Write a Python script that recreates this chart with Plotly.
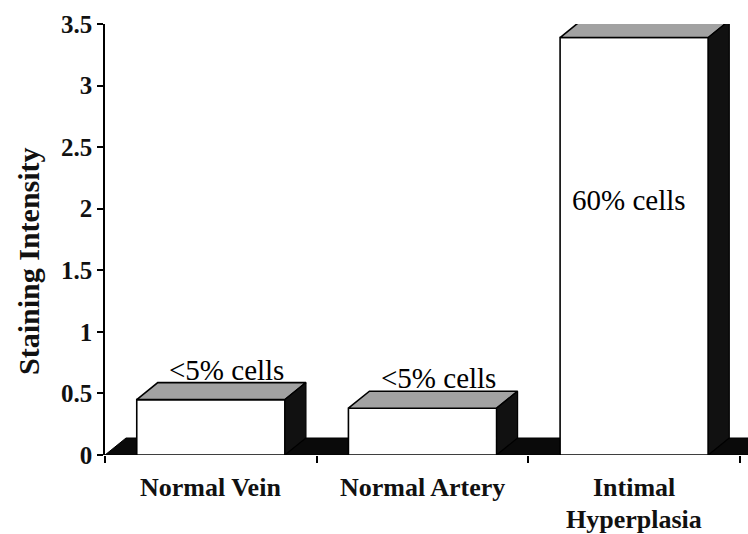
import plotly.graph_objects as go

# ---- data ----
categories = ["Normal Vein", "Normal Artery", "Intimal\nHyperplasia"]
intensity = [0.45, 0.38, 3.39]
cell_labels = ["<5% cells", "<5% cells", "60% cells"]
y_ticks = [0, 0.5, 1, 1.5, 2, 2.5, 3, 3.5]
y_ticktext = ["0", "0.5", "1", "1.5", "2", "2.5", "3", "3.5"]

# ---- style / geometry ----
W, H = 748, 534
ML, MR, MT, MB = 105, 0, 24, 79
PX_PER_CAT = 211.67
X0 = -0.5
X1 = X0 + (W - ML - MR) / PX_PER_CAT
Y_MAX = 3.5
PX_PER_UNIT = (H - MT - MB) / Y_MAX
DX = 21 / PX_PER_CAT          # depth offset in x (data units)
DY = 17 / PX_PER_UNIT         # depth offset in y (data units)
HALF = 0.35                   # half bar width
SERIF = "Liberation Serif, Times New Roman, serif"

fig = go.Figure()


def poly(xs, ys, fill, lw=1.2):
    fig.add_trace(go.Scatter(
        x=xs + [xs[0]], y=ys + [ys[0]], mode="lines", fill="toself",
        fillcolor=fill, line=dict(color="black", width=lw),
        hoverinfo="skip", showlegend=False))


# floor
poly([X0, X0 + DX, X1 + 0.2, X1 + 0.2], [0, DY, DY, 0], "#0a0a0a", 1)

# 3D bars
for i, v in enumerate(intensity):
    xl, xr = i - HALF, i + HALF
    # front face
    poly([xl, xr, xr, xl], [0, 0, v, v], "white", 1.6)
    # top face
    poly([xl, xr, xr + DX, xl + DX], [v, v, v + DY, v + DY], "#a2a2a2", 1.6)
    # side face
    poly([xr, xr + DX, xr + DX, xr], [0, DY, v + DY, v], "#111111", 1.2)

annotations = []
# percentage labels
for i, (v, t) in enumerate(zip(intensity, cell_labels)):
    if v > 2:
        annotations.append(dict(x=i + DX / 2 - 0.075, y=v * 0.61, xref="x", yref="y",
                                text=t, showarrow=False, yanchor="middle",
                                font=dict(family=SERIF, size=29, color="black")))
    else:
        annotations.append(dict(x=i + DX / 2 + 0.025, y=v + DY, xref="x", yref="y",
                                text=t, showarrow=False, yanchor="bottom", yshift=-5,
                                font=dict(family=SERIF, size=29, color="black")))

# category labels
for i, c in enumerate(categories):
    for k, line in enumerate(c.split("\n")):
        annotations.append(dict(x=i, y=0, xref="x", yref="y", text="<b>" + line + "</b>",
                                showarrow=False, yanchor="middle", yshift=-32 - 32 * k,
                                font=dict(family=SERIF, size=26, color="#111")))

# y title (pixel position converted to paper coords)
annotations.append(dict(x=(28 - ML) / (W - ML - MR), y=(H - MB - 261) / (H - MT - MB),
                        xref="paper", yref="paper", text="<b>Staining Intensity</b>",
                        showarrow=False, textangle=-90, xanchor="center", yanchor="middle",
                        font=dict(family=SERIF, size=30, color="#111")))

fig.update_layout(
    width=W, height=H,
    margin=dict(l=ML, r=MR, t=MT, b=MB, pad=0),
    paper_bgcolor="white", plot_bgcolor="white",
    showlegend=False,
    annotations=annotations,
    xaxis=dict(range=[X0, X1], showgrid=False, zeroline=False, showline=False,
               tickvals=[-0.5, 0.5, 1.5, 2.5], ticktext=["", "", "", ""],
               ticks="outside", ticklen=7, tickwidth=1.5, tickcolor="black", fixedrange=True),
    yaxis=dict(range=[0, Y_MAX], showgrid=False, zeroline=False, showline=True,
               linecolor="black", linewidth=1.5,
               tickvals=y_ticks, ticktext=["<b>%s</b>" % t for t in y_ticktext],
               ticks="outside", ticklen=6, tickwidth=1.5, tickcolor="black",
               tickfont=dict(family=SERIF, size=25, color="#111"), fixedrange=True),
)

fig.write_html("out.html", config={"displayModeBar": False},
               post_script="document.body.style.margin='0';")
